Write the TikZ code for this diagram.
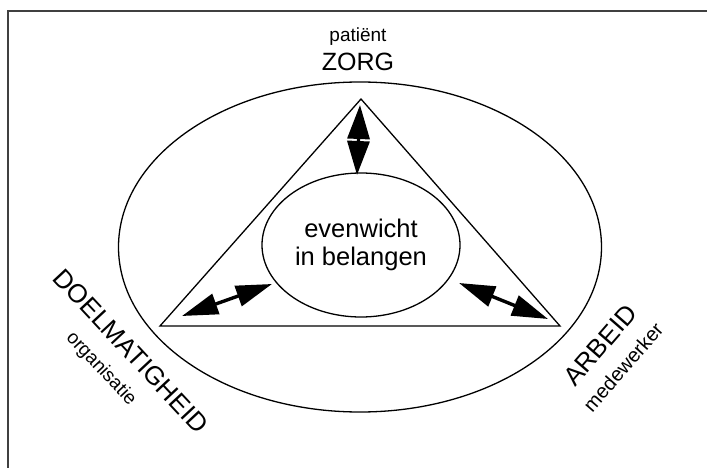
\documentclass[tikz,border=0pt]{standalone}
\usepackage{fontspec}
\setmainfont{Liberation Sans}
\usetikzlibrary{shapes.geometric,arrows.meta}
\begin{document}
\begin{tikzpicture}[x=1pt,y=-1pt,
  lineblk/.style={line width=1.3pt,black},
  dblarrow/.style={line width=3.4pt,{Triangle[length=36pt,width=21pt]}-{Triangle[length=36pt,width=21pt]}},
  toparrow/.style={line width=3.4pt,{Triangle[length=34pt,width=22pt]}-{Triangle[length=34pt,width=22pt]}},
  lbl/.style={inner sep=0pt,font=\fontsize{#1}{#1}\selectfont}]
\useasboundingbox (0,0) rectangle (707,468);
% frame (open at right and bottom)
\coordinate (ftr) at (707,11);
\coordinate (ftl) at (8,11);
\coordinate (fbl) at (8,468);
\draw[line width=1.5pt,black!75] (ftr) -- (ftl) -- (fbl);
% outer ellipse
\node[ellipse,draw,lineblk,minimum width=483pt,minimum height=330pt,inner sep=0pt] (outer) at (360,247) {};
% triangle
\coordinate (apex) at (361,99);
\coordinate (bl) at (160,326);
\coordinate (br) at (560,326);
\draw[lineblk,line join=miter] (apex) -- (bl) -- (br) -- cycle;
% inner ellipse
\node[ellipse,draw,lineblk,minimum width=198pt,minimum height=144pt,inner sep=0pt,
  align=center,font=\fontsize{25.5}{28}\selectfont] (inner) at (361,245) {evenwicht\\in belangen};
% arrows
\coordinate (t1) at (360,105);
\coordinate (t2) at (357,175);
\draw[toparrow] (t1) -- (t2);
\coordinate (l1) at (182,316);
\coordinate (l2) at (272,284);
\draw[dblarrow] (l1) -- (l2);
\coordinate (r1) at (459,283);
\coordinate (r2) at (548,319);
\draw[dblarrow] (r1) -- (r2);
% labels
\node[lbl=19] (pat) at (358,37) {patiënt};
\node[lbl=25] (zorg) at (358,62) {ZORG};
\node[lbl=26,rotate=-47] (doel) at (131,351) {DOELMATIGHEID};
\node[lbl=19,rotate=-47] (org) at (101,369) {organisatie};
\node[lbl=26,rotate=49] (arb) at (600,345) {ARBEID};
\node[lbl=20,rotate=49] (mede) at (623,367) {medewerker};
\end{tikzpicture}
\end{document}
